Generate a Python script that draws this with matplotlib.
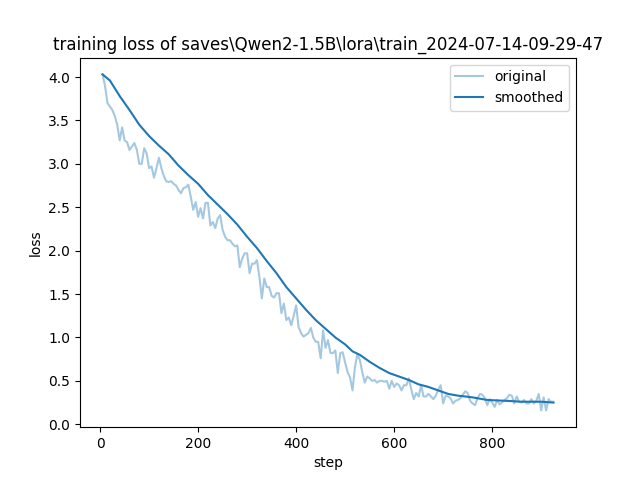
import matplotlib
matplotlib.use("Agg")
import matplotlib.pyplot as plt

# loss logged every 5 steps
steps = list(range(5, 930, 5))
loss = [
    4.03, 3.90, 3.70, 3.66, 3.62, 3.55, 3.45, 3.27, 3.42, 3.27,
    3.25, 3.16, 3.20, 3.24, 3.16, 3.00, 3.00, 3.18, 3.12, 2.95,
    2.97, 2.84, 2.95, 3.07, 2.95, 2.86, 2.80, 2.79, 2.80, 2.77,
    2.75, 2.70, 2.66, 2.72, 2.73, 2.76, 2.62, 2.47, 2.56, 2.39,
    2.49, 2.37, 2.55, 2.55, 2.29, 2.33, 2.26, 2.37, 2.41, 2.24,
    2.16, 2.12, 2.12, 2.08, 2.05, 2.06, 1.81, 1.91, 1.97, 1.97,
    1.74, 1.85, 1.85, 1.89, 1.70, 1.45, 1.68, 1.58, 1.58, 1.48,
    1.46, 1.51, 1.51, 1.28, 1.39, 1.20, 1.23, 1.14, 1.25, 1.37,
    1.12, 1.05, 1.01, 1.03, 1.05, 1.11, 1.00, 0.95, 0.95, 0.76,
    1.08, 0.88, 0.97, 0.82, 0.82, 0.85, 0.59, 0.82, 0.83, 0.71,
    0.60, 0.54, 0.39, 0.66, 0.81, 0.74, 0.60, 0.48, 0.55, 0.53,
    0.50, 0.51, 0.48, 0.50, 0.50, 0.49, 0.50, 0.41, 0.50, 0.43,
    0.47, 0.45, 0.39, 0.45, 0.45, 0.53, 0.40, 0.29, 0.36, 0.32,
    0.45, 0.32, 0.32, 0.35, 0.32, 0.29, 0.33, 0.40, 0.45, 0.24,
    0.33, 0.32, 0.30, 0.24, 0.27, 0.28, 0.30, 0.34, 0.38, 0.36,
    0.27, 0.24, 0.22, 0.30, 0.35, 0.34, 0.30, 0.22, 0.29, 0.25,
    0.20, 0.28, 0.23, 0.25, 0.28, 0.30, 0.34, 0.33, 0.24, 0.32,
    0.26, 0.25, 0.28, 0.24, 0.24, 0.29, 0.24, 0.27, 0.35, 0.16,
    0.31, 0.16, 0.29, 0.26, 0.26,
]

smooth_steps = [5, 20, 40, 60, 80, 100, 120, 140, 160, 180,
                200, 220, 240, 260, 280, 300, 320, 340, 360, 380,
                400, 420, 440, 460, 480, 500, 515, 530, 550, 570,
                590, 610, 630, 650, 670, 690, 710, 730, 760, 790,
                830, 860, 900, 925]
smoothed = [4.03, 3.96, 3.78, 3.62, 3.45, 3.32, 3.21, 3.11, 2.98, 2.87,
            2.77, 2.64, 2.53, 2.42, 2.30, 2.16, 2.03, 1.88, 1.74, 1.58,
            1.45, 1.32, 1.20, 1.10, 1.00, 0.92, 0.84, 0.80, 0.72, 0.65,
            0.59, 0.55, 0.51, 0.46, 0.43, 0.39, 0.35, 0.33, 0.31, 0.28,
            0.27, 0.26, 0.26, 0.25]

fig = plt.figure(figsize=(6.4, 4.8), dpi=100)
plt.plot(steps, loss, color="#1f77b4", alpha=0.4, label="original")
plt.plot(smooth_steps, smoothed, color="#1f77b4", label="smoothed")
plt.title("training loss of saves\\Qwen2-1.5B\\lora\\train_2024-07-14-09-29-47")
plt.xlabel("step")
plt.ylabel("loss")
plt.legend()
plt.savefig("out.png", dpi=100)
